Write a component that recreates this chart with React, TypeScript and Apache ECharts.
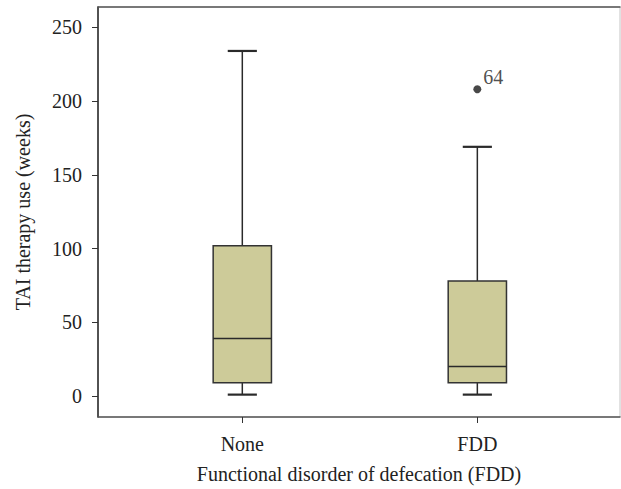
import React, { useEffect, useRef } from "react";
import * as echarts from "echarts";

const categories = ["None", "FDD"];
const categoryPositions = [0, 1];
// [position, min, Q1, median, Q3, max]
const boxValues = [
  [0, 1, 9, 39, 102, 234],
  [1, 1, 9, 20, 78, 169],
];
const outliers = [[1, 208]];
const outlierLabels = ["64"];
const yTicks = [0, 50, 100, 150, 200, 250];

const FONT = "Liberation Serif";
const FS = 20;

export default function App() {
  const ref = useRef<HTMLDivElement>(null);
  useEffect(() => {
    document.body.style.margin = "0";
    const chart = echarts.init(ref.current!, null, { renderer: "svg" });
    const xMin = -0.614;
    const xMax = 1.607;
    chart.setOption({
      animation: false,
      backgroundColor: "#fff",
      textStyle: { fontFamily: FONT },
      grid: {
        left: 98,
        right: 1,
        top: 7,
        bottom: 70,
        show: true,
        borderColor: "#c4c4c4",
        borderWidth: 1,
      },
      xAxis: [
        {
          type: "value",
          min: xMin,
          max: xMax,
          position: "bottom",
          splitLine: { show: false },
          axisLine: { show: true, onZero: false, lineStyle: { color: "#555", width: 1.5 } },
          axisTick: {
            show: true,
            customValues: categoryPositions,
            length: 6,
            lineStyle: { color: "#333", width: 1 },
          },
          axisLabel: {
            customValues: categoryPositions,
            formatter: (v: number) => categories[Math.round(v)] ?? "",
            fontFamily: FONT,
            fontSize: FS,
            color: "#222",
            margin: 17,
          },
          name: "Functional disorder of defecation (FDD)",
          nameLocation: "middle",
          nameGap: 47,
          nameTextStyle: { fontFamily: FONT, fontSize: FS, color: "#222" },
        },
        {
          type: "value",
          min: xMin,
          max: xMax,
          position: "top",
          splitLine: { show: false },
          axisLine: { show: true, onZero: false, lineStyle: { color: "#555", width: 1.5 } },
          axisTick: { show: false },
          axisLabel: { show: false },
        },
      ],
      yAxis: {
        type: "value",
        min: -14.17,
        max: 263.8,
        splitLine: { show: false },
        axisLine: { show: true, onZero: false, lineStyle: { color: "#222", width: 1.5 } },
        axisTick: {
          show: true,
          customValues: yTicks,
          length: 6,
          lineStyle: { color: "#333", width: 1 },
        },
        axisLabel: {
          customValues: yTicks,
          fontFamily: FONT,
          fontSize: FS,
          color: "#222",
          margin: 16,
        },
        name: "TAI therapy use (weeks)",
        nameLocation: "middle",
        nameGap: 65,
        nameTextStyle: { fontFamily: FONT, fontSize: FS, color: "#222" },
      },
      series: [
        {
          type: "custom",
          xAxisIndex: 0,
          data: boxValues,
          renderItem: (params: any, api: any) => {
            const x = api.value(0);
            const mn = api.value(1);
            const q1 = api.value(2);
            const md = api.value(3);
            const q3 = api.value(4);
            const mx = api.value(5);
            const boxW = api.size([0.248, 0])[0];
            const capW = boxW / 2;
            const pMin = api.coord([x, mn]);
            const pQ1 = api.coord([x, q1]);
            const pMd = api.coord([x, md]);
            const pQ3 = api.coord([x, q3]);
            const pMax = api.coord([x, mx]);
            const cx = pMin[0];
            const stroke = "#2a2a2a";
            return {
              type: "group",
              children: [
                {
                  type: "line",
                  shape: { x1: cx, y1: pQ3[1], x2: cx, y2: pMax[1] },
                  style: { stroke, lineWidth: 1.5 },
                },
                {
                  type: "line",
                  shape: { x1: cx, y1: pQ1[1], x2: cx, y2: pMin[1] },
                  style: { stroke, lineWidth: 1.5 },
                },
                {
                  type: "line",
                  shape: { x1: cx - capW / 2, y1: pMax[1], x2: cx + capW / 2, y2: pMax[1] },
                  style: { stroke, lineWidth: 2.2 },
                },
                {
                  type: "line",
                  shape: { x1: cx - capW / 2, y1: pMin[1], x2: cx + capW / 2, y2: pMin[1] },
                  style: { stroke, lineWidth: 2.2 },
                },
                {
                  type: "rect",
                  shape: { x: cx - boxW / 2, y: pQ3[1], width: boxW, height: pQ1[1] - pQ3[1] },
                  style: { fill: "#cdcb99", stroke: "#333", lineWidth: 1.5 },
                },
                {
                  type: "line",
                  shape: { x1: cx - boxW / 2, y1: pMd[1], x2: cx + boxW / 2, y2: pMd[1] },
                  style: { stroke, lineWidth: 1.5 },
                },
              ],
            };
          },
        },
        {
          type: "scatter",
          xAxisIndex: 0,
          data: outliers,
          symbolSize: 8,
          itemStyle: { color: "#1a1a1a" },
          label: {
            show: true,
            position: "right",
            distance: 2,
            offset: [0, -12],
            formatter: (p: any) => outlierLabels[p.dataIndex],
            fontFamily: FONT,
            fontSize: FS,
            color: "#222",
          },
        },
      ],
    });
    return () => chart.dispose();
  }, []);
  return <div ref={ref} style={{ width: 621, height: 489 }} />;
}
